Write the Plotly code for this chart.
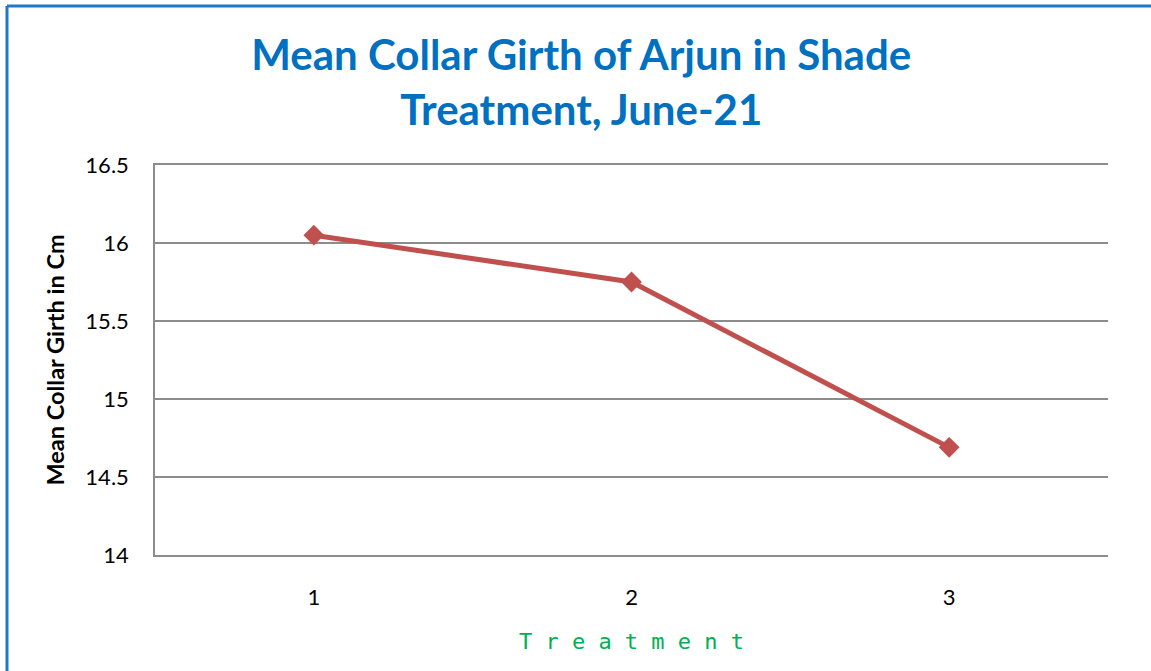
import plotly.graph_objects as go

# data
treatments = ["1", "2", "3"]
mean_girth = [16.05, 15.75, 14.69]
y_ticks = [14, 14.5, 15, 15.5, 16, 16.5]
y_tick_labels = ["14", "14.5", "15", "15.5", "16", "16.5"]

fig = go.Figure()

fig.add_trace(
    go.Scatter(
        x=treatments,
        y=mean_girth,
        mode="lines+markers",
        line=dict(color="#C0504D", width=5),
        marker=dict(symbol="diamond", size=16, color="#C0504D"),
        showlegend=False,
    )
)

grid_col = "#8C8C8C"

fig.update_layout(
    width=1151,
    height=671,
    margin=dict(l=155, r=43, t=165, b=116),
    paper_bgcolor="white",
    plot_bgcolor="white",
    font=dict(family="Lato, Open Sans, sans-serif", color="black"),
    title=dict(
        text="Mean Collar Girth of Arjun in Shade<br>Treatment, June-21",
        font=dict(size=42, color="#0070C0", family="Lato", weight="bold"),
        x=0.505,
        xanchor="center",
        y=0.895,
        yanchor="middle",
    ),
    xaxis=dict(
        type="category",
        range=[-0.5, 2.5],
        showgrid=False,
        showline=True,
        mirror=True,
        linecolor=grid_col,
        linewidth=1.5,
        ticks="",
        ticklabelstandoff=22,
        tickfont=dict(size=22),
        title=dict(
            text="T r e a t m e n t",
            font=dict(size=22, color="#00B050", family="DejaVu Sans Mono"),
            standoff=24,
        ),
    ),
    yaxis=dict(
        range=[14, 16.5],
        tickvals=y_ticks,
        ticktext=y_tick_labels,
        showgrid=True,
        gridcolor=grid_col,
        gridwidth=1.5,
        showline=True,
        linecolor=grid_col,
        linewidth=1.5,
        zeroline=False,
        ticks="",
        ticklabelstandoff=20,
        tickfont=dict(size=22),
        title=dict(
            text="Mean Collar Girth in Cm",
            font=dict(size=23.5, family="Lato", weight="bold"),
            standoff=14,
        ),
    ),
)

# blue chart-area border (top and left visible in the reference)
border = dict(color="#1F78C8", width=3)
fig.add_shape(type="line", xref="paper", yref="paper",
              x0=-0.1553, x1=1.1, y0=1.4077, y1=1.4077, line=border)
fig.add_shape(type="line", xref="paper", yref="paper",
              x0=-0.1553, x1=-0.1553, y0=-0.4, y1=1.4077, line=border)

fig.write_html(
    "out.html",
    config={"displayModeBar": False},
    post_script="document.body.style.margin='0';",
)
